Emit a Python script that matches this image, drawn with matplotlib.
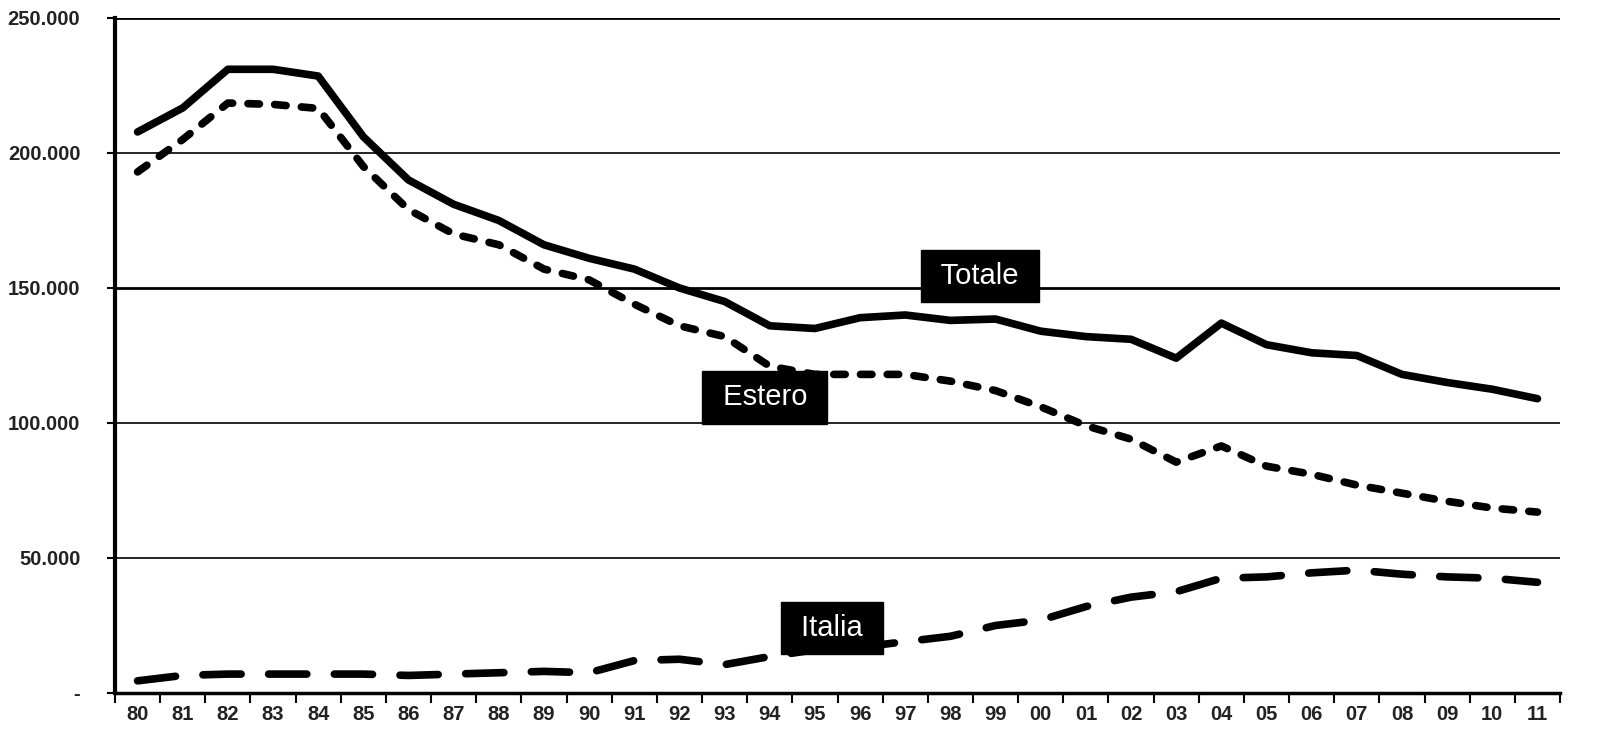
import numpy as np
import matplotlib.pyplot as plt
from matplotlib.ticker import FixedLocator

years = ["80", "81", "82", "83", "84", "85", "86", "87", "88", "89",
         "90", "91", "92", "93", "94", "95", "96", "97", "98", "99",
         "00", "01", "02", "03", "04", "05", "06", "07", "08", "09",
         "10", "11"]

totale = [207800, 216700, 231000, 231000, 228500, 206000, 190000, 181000,
          175000, 166000, 161000, 157000, 150000, 145000, 136000, 135000,
          139000, 140000, 138000, 138500, 134000, 132000, 131000, 124000,
          137000, 129000, 126000, 125000, 118000, 115000, 112500, 109000]

estero = [193000, 205000, 218500, 218000, 216500, 195000, 179000, 170000,
          166000, 157000, 153000, 144000, 136000, 132000, 121000, 118000,
          118000, 118000, 115500, 112000, 106000, 99000, 94000, 85500,
          91500, 84000, 81000, 77000, 74000, 71000, 68500, 67000]

italia = [4500, 6500, 7000, 7000, 7000, 7000, 6500, 7000, 7500, 8000,
          7500, 12000, 12500, 10500, 13500, 16000, 17000, 19000, 21000,
          25000, 27000, 32000, 35500, 37500, 42500, 43000, 44500, 45500,
          44000, 43000, 42500, 41000]

y_ticks = [0, 50000, 100000, 150000, 200000, 250000]
y_labels = ["-", "50.000", "100.000", "150.000", "200.000", "250.000"]

fig = plt.figure(figsize=(16.22, 7.53), dpi=100)
ax = fig.add_axes([0.0709, 0.0797, 0.8909, 0.8964])

x = np.arange(len(years))

# gridlines (some drawn heavier, as in the original)
for v in y_ticks[1:]:
    lw = 2.0 if v in (150000, 250000) else 1.2
    ax.axhline(v, color="black", lw=lw, zorder=1)

ax.plot(x, totale, color="black", lw=5.5, solid_capstyle="round",
        solid_joinstyle="round", zorder=3)
ax.plot(x, estero, color="black", lw=5.5, dashes=(1.5, 2.0),
        dash_capstyle="round", dash_joinstyle="round", zorder=3)
ax.plot(x, italia, color="black", lw=5.5, dashes=(5.0, 3.6),
        dash_capstyle="round", dash_joinstyle="round", zorder=3)

ax.set_xlim(-0.5, len(years) - 0.5)
ax.set_ylim(0, 250000)

# category axis: ticks between categories, labels centred
tick_font = dict(fontsize=14.5, fontweight="bold", color="#222222",
                 family="Liberation Sans")
ax.set_xticks(x)
ax.set_xticklabels(years, **tick_font)
ax.xaxis.set_minor_locator(FixedLocator(np.arange(-0.5, len(years), 1)))
ax.tick_params(axis="x", which="major", length=0, pad=9)
ax.tick_params(axis="x", which="minor", length=7, width=1.5, color="black")

ax.set_yticks(y_ticks)
ax.set_yticklabels(y_labels, **tick_font)
ax.tick_params(axis="y", length=6, width=1.5, pad=19)

for side in ["top", "right"]:
    ax.spines[side].set_visible(False)
ax.spines["left"].set_linewidth(3)
ax.spines["bottom"].set_linewidth(2.5)

box = dict(boxstyle="square,pad=0.42", facecolor="black", edgecolor="black")
lab_font = dict(color="white", fontsize=21, ha="center", va="center",
                bbox=box, zorder=5, family="Liberation Sans")
ax.text(18.65, 154500, " Totale ", **lab_font)
ax.text(13.89, 109500, " Estero ", **lab_font)
ax.text(15.38, 24000, " Italia ", **lab_font)

fig.savefig("out.png", dpi=100, facecolor="white")
